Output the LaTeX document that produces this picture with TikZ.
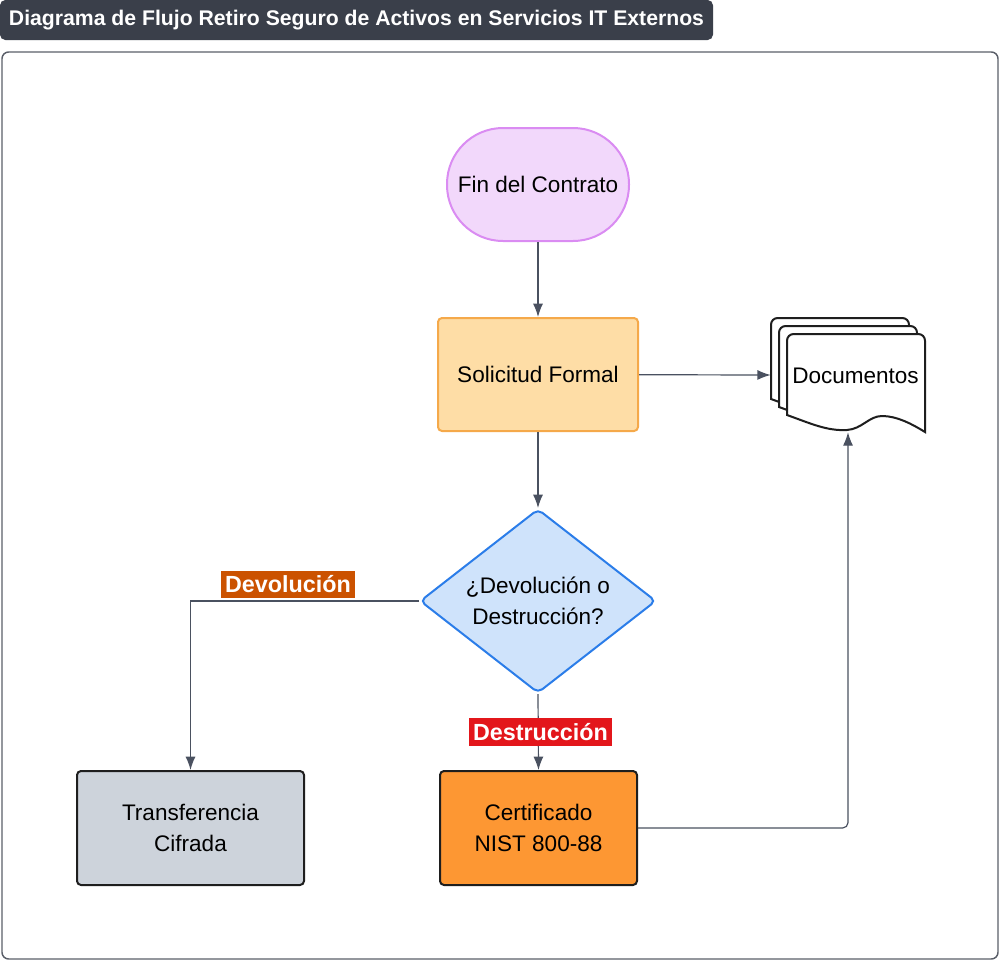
\documentclass[tikz,border=0pt]{standalone}
\usepackage{fontspec}
\setmainfont{Liberation Sans}
\usepackage{tikz}
\usetikzlibrary{arrows.meta,shapes.geometric,positioning}
\usepackage{xcolor}
\definecolor{TitleBg}{RGB}{58,63,74}
\definecolor{FrameG} {RGB}{90,95,105}
\definecolor{LineG}  {RGB}{74,81,96}
\definecolor{StartF} {RGB}{242,216,251}
\definecolor{StartD} {RGB}{218,140,242}
\definecolor{ReqF}   {RGB}{254,221,166}
\definecolor{ReqD}   {RGB}{245,169,74}
\definecolor{DecF}   {RGB}{207,227,251}
\definecolor{DecD}   {RGB}{43,125,233}
\definecolor{TransF} {RGB}{205,211,219}
\definecolor{CertF}  {RGB}{253,151,51}
\definecolor{EdgeK}  {RGB}{30,30,30}
\definecolor{DevolO} {RGB}{203,82,0}
\definecolor{DestrR} {RGB}{227,22,27}
\newcommand{\txt}{\fontsize{16.9}{23.2}\selectfont}

\begin{document}
\begin{tikzpicture}[x=0.75pt,y=-0.75pt,
    box/.style={draw,line width=1.5pt,align=center,font=\txt,inner sep=2pt},
    flow/.style={-{Latex[length=10pt,width=7.5pt]},LineG,line width=0.9pt},
    tag/.style={text=white,font=\fontsize{17.5}{20}\selectfont\bfseries,inner xsep=3pt,inner ysep=1pt,minimum height=20.5pt}]
  \useasboundingbox (0,0) rectangle (1000,961);
  \node[fill=TitleBg,rounded corners=4pt,text=white,minimum width=534.75pt,minimum height=30pt,
        font=\fontsize{15.9}{18}\selectfont\bfseries] (title) at (356.5,20)
        {Diagrama de Flujo Retiro Seguro de Activos en Servicios IT Externos};
  \draw[FrameG,line width=1.1pt,rounded corners=5pt] (2,52) rectangle (998,959);

  \node[box,StartD,fill=StartF,text=black,rounded corners=42pt,minimum width=136.5pt,minimum height=84.75pt]
    (fin) at (538,184.5) {Fin del Contrato};
  \node[box,ReqD,fill=ReqF,text=black,rounded corners=3pt,minimum width=150pt,minimum height=84.75pt]
    (sol) at (538,374.5) {Solicitud Formal};
  \node[box,diamond,DecD,fill=DecF,text=black,rounded corners=4pt,inner sep=0pt,aspect=1.28,
        minimum width=177pt,minimum height=138pt]
    (dec) at (538,601) {¿Devolución o\\Destrucción?};
  \node[box,EdgeK,fill=TransF,text=black,rounded corners=3pt,minimum width=170.25pt,minimum height=85.5pt]
    (trans) at (190.5,828) {Transferencia\\Cifrada};
  \node[box,EdgeK,fill=CertF,text=black,rounded corners=3pt,minimum width=147.75pt,minimum height=85.5pt]
    (cert) at (538.5,828) {Certificado\\NIST 800-88};

  % documentos: three stacked pages
  \foreach \d in {-16,-8,0}{
    \begin{scope}[shift={(787+\d,334+\d)}]
      \draw[EdgeK,fill=white,line width=1.5pt] (0,81) [rounded corners=5pt]-- (0,0) -- (138,0)
        [sharp corners]-- (138,98) .. controls (125,90) and (110,82) .. (95,82)
        .. controls (82,82) and (75,95) .. (60,96) .. controls (40,97) and (25,90) .. (0,81) -- cycle;
    \end{scope}}
  \node[minimum width=115.5pt,minimum height=85.5pt,inner sep=0pt] (docsbox) at (848,375) {};
  \node[font=\txt] (docs) at (855.5,376) {Documentos};

  \draw[flow] (fin) -- (sol);
  \draw[flow] (sol) -- (docsbox.west);
  \draw[flow] (sol) -- (dec);
  \draw[flow] (dec.west) -| (trans.north);
  \draw[flow] (dec.south) -- (cert.north);
  \draw[flow,rounded corners=4pt] (cert.east) -| (docsbox.south);

  \node[tag,fill=DevolO] (ldev) at (288,584.5) {Devolución};
  \node[tag,fill=DestrR] (ldes) at (540.5,732) {Destrucción};
\end{tikzpicture}
\end{document}
